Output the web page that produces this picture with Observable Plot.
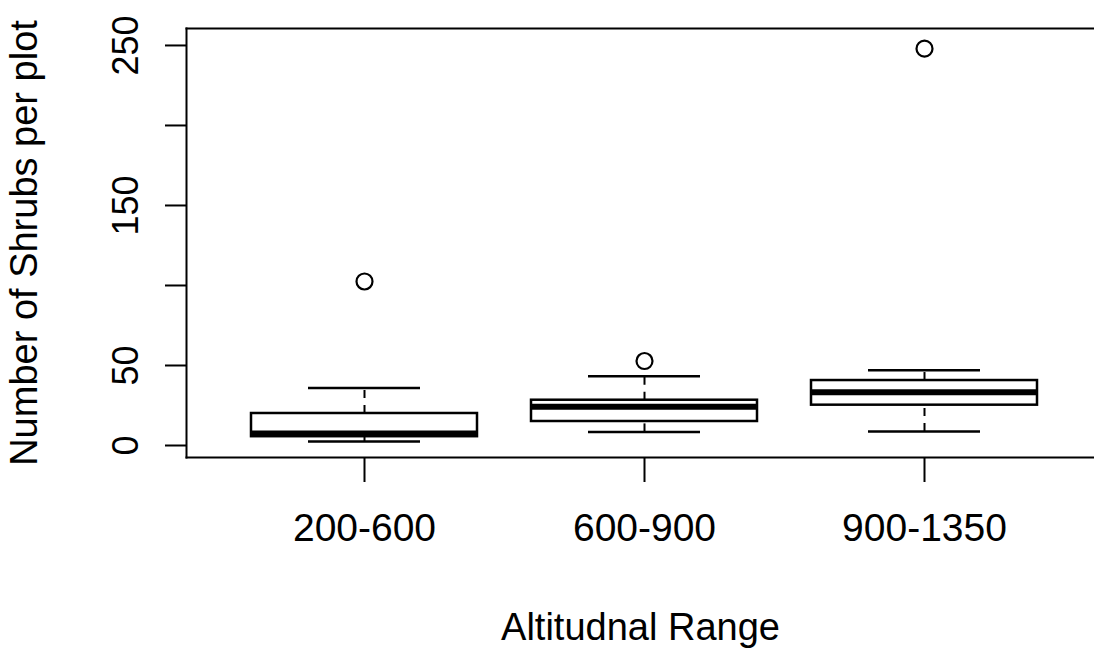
<!DOCTYPE html>
<html><head><meta charset="utf-8">
<script src="https://cdn.jsdelivr.net/npm/d3@7"></script>
<script src="https://cdn.jsdelivr.net/npm/@observablehq/plot@0.6"></script>
<style>
html,body{margin:0;padding:0;background:#fff;overflow:hidden;}
#chart{width:1094px;height:652px;overflow:hidden;}
#chart svg{max-width:none !important;}
</style></head><body><div id="chart"></div>
<script>
const categories = ["200-600", "600-900", "900-1350"];
const lowerWhisker = [2.5, 8.5, 8.7];
const q1 = [5.5, 15, 25.2];
const median = [7.5, 24.2, 33.3];
const q3 = [20, 28.3, 40.6];
const upperWhisker = [36, 43.3, 47];
const outlierCategory = ["200-600", "600-900", "900-1350"];
const outlierValue = [102.5, 52.8, 248];
const yTicks = [0, 50, 100, 150, 200, 250];
const yTickLabels = ["0", "50", "", "150", "", "250"];

const boxes = categories.map((c, i) => ({cat: c, lo: lowerWhisker[i], q1: q1[i], med: median[i], q3: q3[i], hi: upperWhisker[i]}));
const outliers = outlierCategory.map((c, i) => ({cat: c, v: outlierValue[i]}));
const labelOf = new Map(yTicks.map((t, i) => [t, yTickLabels[i]]));

const chart = Plot.plot({
  width: 1094, height: 652,
  marginLeft: 186, marginRight: 0, marginTop: 28, marginBottom: 195,
  style: {fontFamily: "'Liberation Sans', Arial, sans-serif", background: "white", color: "black", maxWidth: "none"},
  x: {type: "band", domain: categories, range: [186, 1102], paddingInner: 0.192, paddingOuter: 0.226, axis: null},
  y: {domain: [-7.5, 260.6], axis: null},
  marks: [
    Plot.ruleX(boxes, {x: "cat", y1: "q3", y2: "hi", stroke: "black", strokeWidth: 2, strokeDasharray: "8,7"}),
    Plot.ruleX(boxes, {x: "cat", y1: "lo", y2: "q1", stroke: "black", strokeWidth: 2, strokeDasharray: "8,7"}),
    Plot.tickY(boxes, {x: "cat", y: "hi", insetLeft: 57, insetRight: 57, stroke: "black", strokeWidth: 2.5}),
    Plot.tickY(boxes, {x: "cat", y: "lo", insetLeft: 57, insetRight: 57, stroke: "black", strokeWidth: 2.5}),
    Plot.barY(boxes, {x: "cat", y1: "q1", y2: "q3", fill: "white", stroke: "black", strokeWidth: 2.5}),
    Plot.tickY(boxes, {x: "cat", y: "med", stroke: "black", strokeWidth: 6}),
    Plot.dot(outliers, {x: "cat", y: "v", r: 8, stroke: "black", strokeWidth: 2.2, fill: "none"}),
    Plot.frame({anchor: "top", stroke: "black", strokeWidth: 2}),
    Plot.frame({anchor: "left", stroke: "black", strokeWidth: 2}),
    Plot.frame({anchor: "bottom", stroke: "black", strokeWidth: 2}),
    Plot.axisY({ticks: yTicks, tickFormat: d => labelOf.get(d), tickRotate: -90, tickSize: 21, tickPadding: 28,
      fontSize: 36, strokeWidth: 2, label: null}),
    Plot.axisY({ticks: [], fontSize: 38, label: "Number of Shrubs per plot", labelArrow: "none", labelAnchor: "center", labelOffset: 176}),
    Plot.axisX({tickSize: 25, tickPadding: 31, fontSize: 39, strokeWidth: 2, label: null}),
    Plot.axisX({ticks: [], fontSize: 38, label: "Altitudnal Range", labelArrow: "none", labelAnchor: "center", labelOffset: 182})
  ]
});
document.getElementById("chart").appendChild(chart);
</script></body></html>
